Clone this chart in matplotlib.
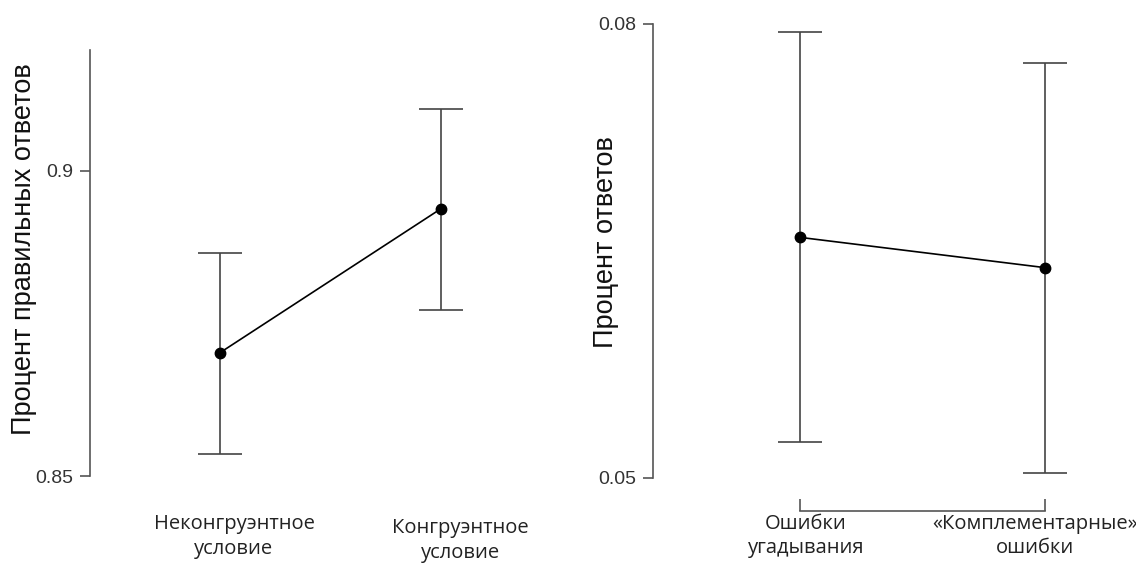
import numpy as np
import matplotlib.pyplot as plt

# data
left_labels = ['Неконгруэнтное\nусловие', 'Конгруэнтное\nусловие']
left_mean = [0.8702, 0.8938]
left_low = [0.8536, 0.8772]
left_high = [0.8866, 0.9102]

right_labels = ['Ошибки\nугадывания', '«Комплементарные»\nошибки']
right_mean = [0.0659, 0.0639]
right_low = [0.0524, 0.0503]
right_high = [0.0795, 0.0774]

sans = ['Liberation Sans', 'DejaVu Sans']
label_font = ['Open Sans', 'DejaVu Sans']
spine_col = '#555555'
bar_col = '#444444'

fig = plt.figure(figsize=(11.36, 5.63), dpi=100)
ax1 = fig.add_axes([0.0792, 0.1545, 0.4137, 0.7567])
ax2 = fig.add_axes([0.5748, 0.151, 0.4199, 0.8064])


def draw(ax, mean, low, high, labels, ylim, xlim, yticks, ylabel, lab_dx, lab_dy, spine_top):
    x = np.arange(len(mean))
    mean = np.array(mean)
    err = [mean - np.array(low), np.array(high) - mean]
    ax.errorbar(x, mean, yerr=err, fmt='none', ecolor=bar_col, elinewidth=1.2,
                capsize=16, capthick=1.2)
    ax.plot(x, mean, color='black', lw=1.2, marker='o', ms=7.5, zorder=3)
    ax.set_xlim(*xlim)
    ax.set_ylim(*ylim)
    for s in ['top', 'right', 'bottom']:
        ax.spines[s].set_visible(False)
    ax.spines['left'].set_color(spine_col)
    ax.spines['left'].set_linewidth(1.2)
    ax.spines['left'].set_bounds(ylim[0], spine_top)
    ax.set_yticks(yticks)
    ax.set_yticklabels([str(t) for t in yticks], family=sans, fontsize=14, color='#333333')
    ax.tick_params(axis='y', length=7, width=1.2, color=spine_col, pad=5)
    ax.set_xticks([])
    ax.set_ylabel(ylabel, family=sans, fontsize=19.5, color='#111111')
    for xi, lab, dx, dy in zip(x, labels, lab_dx, lab_dy):
        ax.annotate(lab, xy=(xi, 0), xycoords=('data', 'axes fraction'),
                    xytext=(dx, dy), textcoords='offset pixels',
                    ha='center', va='top', family=label_font, fontsize=14.5,
                    color='#222222', linespacing=1.3)


draw(ax1, left_mean, left_low, left_high, left_labels,
     (0.85, 0.9198), (-0.588, 1.538), [0.85, 0.9],
     'Процент правильных ответов', [14, 19], [-38, -42], 0.9198)
ax1.yaxis.set_label_coords(-0.113, 0.533)

draw(ax2, right_mean, right_low, right_high, right_labels,
     (0.05, 0.08), (-0.6, 1.347), [0.05, 0.08],
     'Процент ответов', [6, -10], [-36, -36], 0.08)
ax2.yaxis.set_label_coords(-0.072, 0.519)

# bracket-style x axis on the right panel
ax2.spines['bottom'].set_visible(True)
ax2.spines['bottom'].set_color(spine_col)
ax2.spines['bottom'].set_linewidth(1.2)
ax2.spines['bottom'].set_position(('outward', 24))
ax2.spines['bottom'].set_bounds(0, 1)
ax2.set_xticks([0, 1])
ax2.set_xticklabels([])
ax2.tick_params(axis='x', length=9, width=1.2, color=spine_col, direction='in')

fig.savefig('out.png', dpi=100, facecolor='white')
